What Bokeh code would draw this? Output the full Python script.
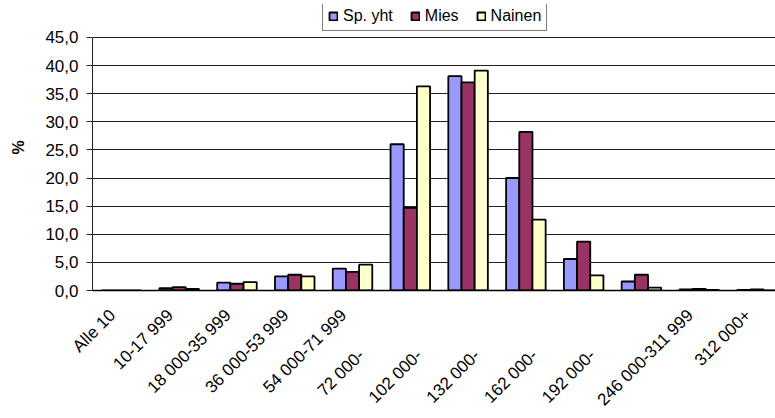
import math
from bokeh.plotting import figure
from bokeh.models import (Range1d, FixedTicker, ColumnDataSource, Legend, LegendItem,
                          LinearAxis)
from bokeh.embed import file_html
from bokeh.resources import INLINE

# ---- data ----
tick_labels = ["Alle 10", "10-17 999", "18 000-35 999", "36 000-53 999", "54 000-71 999",
               "72 000-", "102 000-", "132 000-", "162 000-", "192 000-",
               "246 000-311 999", "312 000+"]
sp_yht = [0.0, 0.4, 1.4, 2.5, 3.9, 26.0, 38.1, 20.0, 5.6, 1.6, 0.2, 0.1]
mies = [0.0, 0.6, 1.2, 2.8, 3.3, 14.7, 37.0, 28.2, 8.7, 2.8, 0.3, 0.2]
nainen = [0.0, 0.3, 1.5, 2.5, 4.6, 36.3, 39.1, 12.6, 2.7, 0.5, 0.1, 0.0]
series_names = ["Sp. yht", "Mies", "Nainen"]
y_ticks = [0, 5, 10, 15, 20, 25, 30, 35, 40, 45]

colors = ["#9999FF", "#993366", "#FFFFCC"]
FONT = "Liberation Sans"

n = len(tick_labels)
# frame reaches (almost) the top of the page so the legend drawn inside it stays visible
p = figure(width=775, height=418, output_backend="svg", toolbar_location=None,
           x_range=Range1d(0, 11.82), y_range=Range1d(0, 50.846),
           min_border_left=92, min_border_right=0, min_border_top=4,
           min_border_bottom=127)
p.background_fill_color = "white"
p.border_fill_color = "white"
p.outline_line_color = None

centers = [i + 0.5 for i in range(n)]
bounds = list(range(n + 1))
bw = 0.228

# grid
p.xgrid.grid_line_color = None
p.ygrid.ticker = FixedTicker(ticks=y_ticks)
p.ygrid.grid_line_color = "#222222"
p.ygrid.grid_line_width = 1

renderers = []
for k, (vals, col) in enumerate(zip([sp_yht, mies, nainen], colors)):
    src = ColumnDataSource(dict(x=[c + (k - 1) * bw for c in centers], top=vals))
    r = p.vbar(x="x", top="top", width=bw, bottom=0, source=src,
               fill_color=col, line_color="black", line_width=1.8)
    renderers.append(r)

# y axis
p.yaxis.bounds = (y_ticks[0], y_ticks[-1])
p.yaxis.ticker = FixedTicker(ticks=y_ticks)
p.yaxis.major_label_overrides = {t: f"{t:.1f}".replace(".", ",") for t in y_ticks}
p.yaxis.major_label_text_font = FONT
p.yaxis.major_label_text_font_size = "17px"
p.yaxis.major_label_text_color = "black"
p.yaxis.major_tick_out = 6
p.yaxis.major_tick_in = 0
p.yaxis.minor_tick_line_color = None
p.yaxis.axis_line_color = "#222222"
p.yaxis.major_tick_line_color = "#222222"
p.yaxis.major_label_standoff = 8
p.yaxis.axis_label = "%"
p.yaxis.axis_label_text_font = FONT
p.yaxis.axis_label_text_font_size = "16px"
p.yaxis.axis_label_text_font_style = "bold"
p.yaxis.axis_label_text_color = "black"
p.yaxis.axis_label_standoff = 15

# x axis A: rotated category labels, ending just left of each category centre
# labels that are cut short in the original sit lower-left: pad them with no-break spaces
pad = "\u00a0" * 12
shift = 0.155
label_pos = [c - shift for c in centers]
label_text = {x: (lab + pad if lab.endswith("-") else lab) for x, lab in zip(label_pos, tick_labels)}
xa = p.xaxis[0]
xa.ticker = FixedTicker(ticks=label_pos)
xa.major_label_overrides = label_text
xa.major_label_orientation = math.pi / 4
xa.major_label_text_font = FONT
xa.major_label_text_font_size = "17px"
xa.major_label_text_color = "black"
xa.major_label_standoff = 22
xa.major_tick_out = 0
xa.major_tick_in = 0
xa.major_tick_line_color = None
xa.minor_tick_line_color = None
xa.axis_line_color = "black"
xa.axis_line_width = 1.5

# x axis B: tick marks at the category boundaries, drawn downward from the baseline
xb = LinearAxis(fixed_location=0, ticker=FixedTicker(ticks=bounds),
                major_label_overrides={b: "" for b in bounds},
                major_label_text_font_size="2px", major_label_standoff=0,
                major_tick_out=0, major_tick_in=6, major_tick_line_color="#222222",
                minor_tick_line_color=None, axis_line_color=None)
p.add_layout(xb, "above")

legend = Legend(items=[LegendItem(label=nm, renderers=[r]) for nm, r in zip(series_names, renderers)],
                orientation="horizontal", location=(230, 259),
                label_text_font=FONT, label_text_font_size="16px", label_text_color="black",
                glyph_width=10, glyph_height=10, label_standoff=5, spacing=17,
                padding=5, margin=0, label_height=18,
                border_line_color="black", border_line_width=1,
                background_fill_color="white")
p.add_layout(legend)

open("out.html", "w").write(file_html(p, INLINE))
